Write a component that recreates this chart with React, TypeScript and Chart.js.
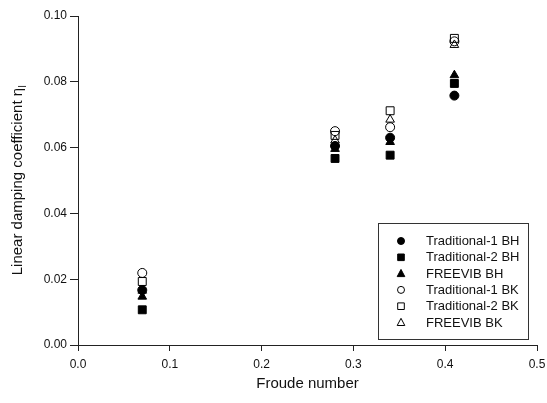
import React, { useEffect, useRef } from "react";
import { Chart, registerables } from "chart.js";

Chart.register(...registerables);

const froude = [0.07, 0.28, 0.34, 0.41];
const trad1BH = [0.0167, 0.0605, 0.063, 0.0758];
const trad2BH = [0.0107, 0.0567, 0.0577, 0.0795];
const freevibBH = [0.0147, 0.0596, 0.0617, 0.082];
const trad1BK = [0.0219, 0.065, 0.0662, 0.0923];
const trad2BK = [0.0193, 0.0637, 0.0712, 0.0932];
const freevibBK = [0.0165, 0.0622, 0.0685, 0.0912];

const seriesLabels = [
  "Traditional-1 BH",
  "Traditional-2 BH",
  "FREEVIB BH",
  "Traditional-1 BK",
  "Traditional-2 BK",
  "FREEVIB BK",
];
const seriesValues = [trad1BH, trad2BH, freevibBH, trad1BK, trad2BK, freevibBK];
const seriesShapes = ["circle", "rect", "triangle", "circle", "rect", "triangle"];
const seriesFilled = [true, true, true, false, false, false];

const xTickValues = [0, 0.1, 0.2, 0.3, 0.4, 0.5];
const yTickValues = [0, 0.02, 0.04, 0.06, 0.08, 0.1];

const xTitle = "Froude number";
const yTitleMain = "Linear damping coefficient η";
const yTitleSub = "l";

const FONT = "'Liberation Sans', Arial, sans-serif";
const INK = "#111";

const radiusFor = (shape: string) => (shape === "rect" ? 5.6 : shape === "triangle" ? 5 : 4.5);

function drawMarker(ctx: CanvasRenderingContext2D, shape: string, filled: boolean, x: number, y: number) {
  ctx.beginPath();
  if (shape === "circle") {
    ctx.arc(x, y, 3.5, 0, Math.PI * 2);
  } else if (shape === "rect") {
    ctx.rect(x - 3.3, y - 3.3, 6.6, 6.6);
  } else {
    ctx.moveTo(x, y - 4.2);
    ctx.lineTo(x + 3.8, y + 3);
    ctx.lineTo(x - 3.8, y + 3);
    ctx.closePath();
  }
  ctx.lineWidth = 1;
  ctx.strokeStyle = "#000";
  if (filled) {
    ctx.fillStyle = "#000";
    ctx.fill();
  }
  ctx.stroke();
}

const customDraw = {
  id: "customDraw",
  afterDraw(chart: any) {
    const ctx = chart.ctx;
    const area = chart.chartArea;
    ctx.save();
    ctx.fillStyle = INK;
    ctx.font = `15px ${FONT}`;
    const w1 = ctx.measureText(yTitleMain).width;
    ctx.font = `10px ${FONT}`;
    const w2 = ctx.measureText(yTitleSub).width;
    const cy = (area.top + area.bottom) / 2;
    ctx.translate(18, cy);
    ctx.rotate(-Math.PI / 2);
    ctx.textBaseline = "middle";
    ctx.textAlign = "left";
    const start = -(w1 + w2) / 2;
    ctx.font = `15px ${FONT}`;
    ctx.fillText(yTitleMain, start, 0);
    ctx.font = `10px ${FONT}`;
    ctx.fillText(yTitleSub, start + w1 + 0.5, 5);
    ctx.restore();

    ctx.save();
    const bx = 378.5, by = 223.5, bw = 150, bh = 116;
    ctx.strokeStyle = "#333";
    ctx.lineWidth = 1;
    ctx.strokeRect(bx, by, bw, bh);
    ctx.font = `13px ${FONT}`;
    ctx.textBaseline = "middle";
    ctx.textAlign = "left";
    seriesLabels.forEach((label, i) => {
      const y = 241 + i * 16.3;
      drawMarker(ctx, seriesShapes[i], seriesFilled[i], 401, y);
      ctx.fillStyle = INK;
      ctx.fillText(label, 426, y + 0.5);
    });
    ctx.restore();
  },
};

export default function App() {
  const ref = useRef<HTMLCanvasElement | null>(null);

  useEffect(() => {
    document.body.style.margin = "0";
    const canvas = ref.current;
    if (!canvas) return;
    const datasets = seriesLabels.map((label, i) => ({
      label,
      data: froude.map((x, j) => ({ x, y: seriesValues[i][j] })),
      pointStyle: seriesShapes[i],
      pointRadius: radiusFor(seriesShapes[i]),
      pointHoverRadius: radiusFor(seriesShapes[i]),
      pointBackgroundColor: seriesFilled[i] ? "#000" : "rgba(0,0,0,0)",
      pointBorderColor: "#000",
      pointBorderWidth: 1,
      showLine: false,
    }));
    const chart = new Chart(canvas, {
      type: "scatter",
      data: { datasets },
      options: {
        animation: false,
        responsive: false,
        maintainAspectRatio: false,
        layout: { padding: { left: 0, right: 10, top: 16, bottom: 0 } },
        plugins: {
          legend: { display: false },
          tooltip: { enabled: false },
          title: { display: false },
        },
        scales: {
          x: {
            type: "linear",
            min: 0,
            max: 0.5,
            afterFit: (s: any) => {
              s.height = 58;
            },
            afterBuildTicks: (s: any) => {
              s.ticks = xTickValues.map((v) => ({ value: v }));
            },
            ticks: {
              callback: (v: any) => Number(v).toFixed(1),
              color: INK,
              font: { family: FONT, size: 12, lineHeight: 2 },
              padding: 1.5,
              maxRotation: 0,
            },
            grid: {
              display: true,
              drawOnChartArea: false,
              drawTicks: true,
              tickLength: 6,
              color: "#222",
              lineWidth: 1,
            },
            border: { display: true, color: "#222", width: 1 },
            title: {
              display: true,
              text: xTitle,
              color: INK,
              font: { family: FONT, size: 15 },
              padding: { top: 0, bottom: 10 },
            },
          },
          y: {
            type: "linear",
            min: 0,
            max: 0.1,
            afterFit: (s: any) => {
              s.width = 78;
            },
            afterBuildTicks: (s: any) => {
              s.ticks = yTickValues.map((v) => ({ value: v }));
            },
            ticks: {
              callback: (v: any) => Number(v).toFixed(2),
              color: INK,
              font: { family: FONT, size: 12 },
              padding: 3,
            },
            grid: {
              display: true,
              drawOnChartArea: false,
              drawTicks: true,
              tickLength: 8,
              color: "#222",
              lineWidth: 1,
            },
            border: { display: true, color: "#222", width: 1 },
          },
        },
      } as any,
      plugins: [customDraw],
    });
    return () => chart.destroy();
  }, []);

  return (
    <div style={{ width: 547, height: 403 }}>
      <canvas ref={ref} width={547} height={403} style={{ display: "block" }} />
    </div>
  );
}
